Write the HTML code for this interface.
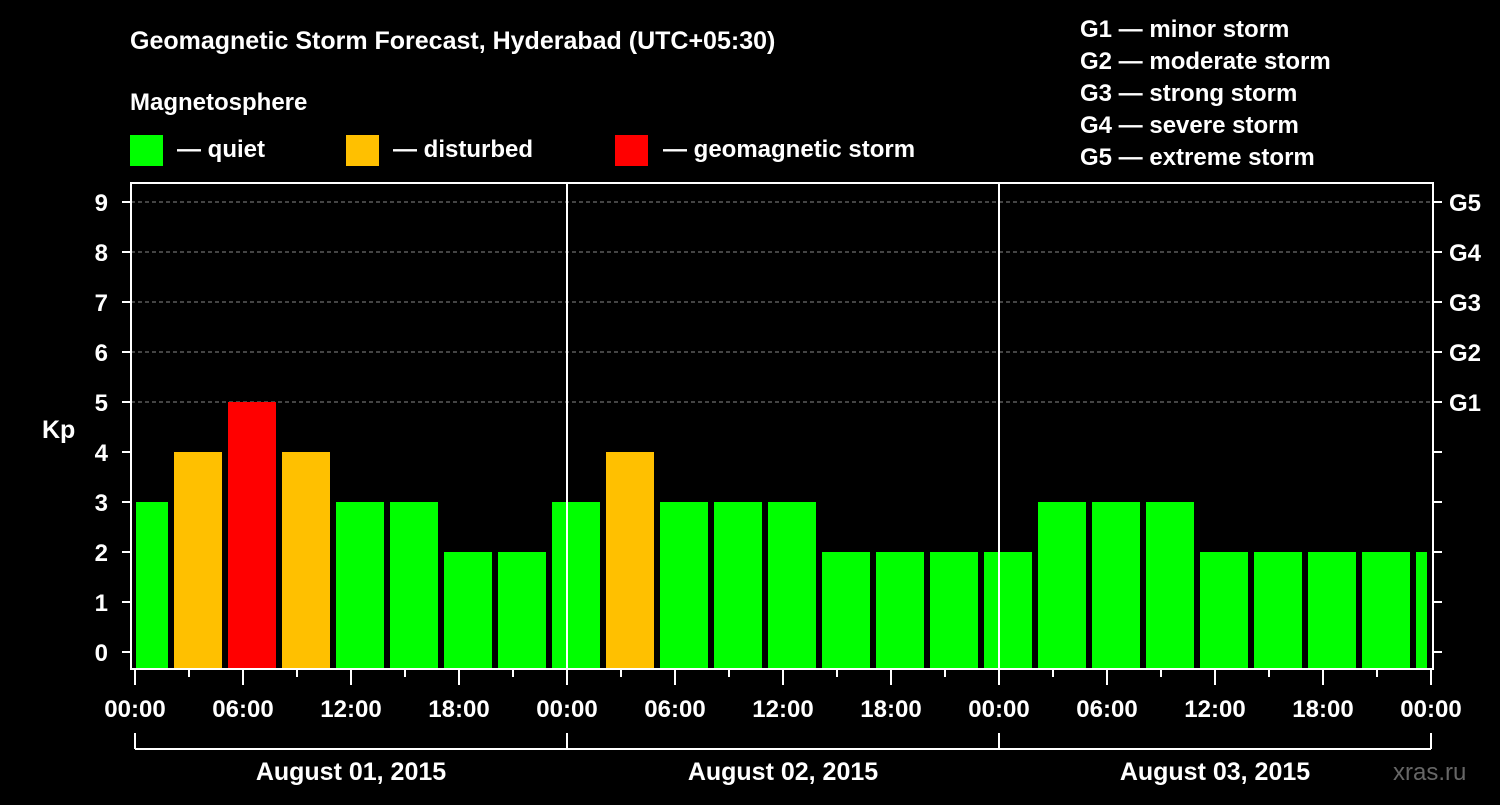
<!DOCTYPE html>
<html><head><meta charset="utf-8"><style>
body{margin:0;background:#000;width:1500px;height:800px;overflow:hidden}
svg text{font-family:"Liberation Sans",Arial,sans-serif;font-weight:bold;fill:#fff}
</style></head><body>
<svg id="chart" width="1500" height="800" viewBox="0 0 1500 800" xmlns="http://www.w3.org/2000/svg">
<text x="130" y="49" font-size="25">Geomagnetic Storm Forecast, Hyderabad (UTC+05:30)</text>
<text x="130" y="110" font-size="24">Magnetosphere</text>
<g>
<rect x="130" y="135" width="33" height="31" fill="#00ff00"/>
<text x="177" y="157" font-size="24">— quiet</text>
<rect x="346" y="135" width="33" height="31" fill="#ffc000"/>
<text x="393" y="157" font-size="24">— disturbed</text>
<rect x="615" y="135" width="33" height="31" fill="#ff0000"/>
<text x="663" y="157" font-size="24">— geomagnetic storm</text>
</g>
<g font-size="24">
<text x="1080" y="37">G1 — minor storm</text>
<text x="1080" y="69">G2 — moderate storm</text>
<text x="1080" y="101">G3 — strong storm</text>
<text x="1080" y="133">G4 — severe storm</text>
<text x="1080" y="165">G5 — extreme storm</text>
</g>
<text x="42" y="438" font-size="25">Kp</text>
<text x="1393" y="780" font-size="24" fill="#555" style="fill:#666;font-weight:normal">xras.ru</text>
<g id="grid"></g><g id="bars"></g><g id="axes"></g>
</svg>
<script>
const firstPartialValue = 3;
const kpValues = [4,5,4,3,3,2,2,3,4,3,3,3,2,2,2,2,3,3,3,2,2,2,2,2];
const dayLabels = ["August 01, 2015","August 02, 2015","August 03, 2015"];
const hourLabels = ["00:00","06:00","12:00","18:00"];
const gLabels = ["G1","G2","G3","G4","G5"];
const kpTicks = [0,1,2,3,4,5,6,7,8,9];

const NS="http://www.w3.org/2000/svg";
const X0=135, PXH=18, plotL=131, plotR=1433, plotT=183, plotB=669;
const xOf=h=>X0+h*PXH;
const yOf=v=>652-50*v;
function mk(tag,attrs,parent){const e=document.createElementNS(NS,tag);for(const k in attrs)e.setAttribute(k,attrs[k]);document.getElementById(parent).appendChild(e);return e;}
function col(v){return v>=5?"#ff0000":v>=4?"#ffc000":"#00ff00";}

// grid
for(let v=5;v<=9;v++){
  const l=mk("line",{x1:plotL,x2:plotR,y1:yOf(v),y2:yOf(v),stroke:"#888","stroke-dasharray":"4,3","stroke-width":1},"grid");
  
  
}
// bars
const end=xOf(72)-4;
{
  const b=mk("rect",{x:X0+1,y:yOf(firstPartialValue),width:xOf(2)-3-(X0+1),height:plotB-1-yOf(firstPartialValue),fill:col(firstPartialValue)},"bars");
  
  
}
kpValues.forEach((v,i)=>{
  const s=xOf(2+3*i)+3; let e=s+48; if(e>end)e=end;
  const b=mk("rect",{x:s,y:yOf(v),width:e-s,height:plotB-1-yOf(v),fill:col(v)},"bars");
  
  
});
// frame
const fr=mk("rect",{x:plotL,y:plotT,width:plotR-plotL,height:plotB-plotT,fill:"none",stroke:"#fff","stroke-width":2},"axes");


[1,2].forEach(d=>{
  const l=mk("line",{x1:xOf(24*d),x2:xOf(24*d),y1:plotT,y2:plotB,stroke:"#fff","stroke-width":2},"axes");
  
  
});
// y ticks
kpTicks.forEach(v=>{
  const y=yOf(v);
  const t=mk("line",{x1:122,x2:plotL,y1:y,y2:y,stroke:"#fff","stroke-width":2},"axes");
  
  
  const r=mk("line",{x1:plotR,x2:1442,y1:y,y2:y,stroke:"#fff","stroke-width":2},"axes");
  
  
  const tx=mk("text",{x:108,y:y+9,"font-size":24,"text-anchor":"end"},"axes");
  tx.textContent=v;
  
  
});
gLabels.forEach((g,i)=>{
  const tx=mk("text",{x:1449,y:yOf(5+i)+9,"font-size":24},"axes");
  tx.textContent=g;
  
  
});
// x ticks
for(let h=0;h<=72;h+=3){
  const major=h%6===0;
  const t=mk("line",{x1:xOf(h),x2:xOf(h),y1:plotB,y2:major?685:677,stroke:"#fff","stroke-width":2},"axes");
  
  
  if(major){
    const tx=mk("text",{x:xOf(h),y:717,"font-size":24,"text-anchor":"middle"},"axes");
    tx.textContent=hourLabels[(h%24)/6];
    
    
  }
}
// day brackets
const br=mk("line",{x1:xOf(0),x2:xOf(72),y1:749,y2:749,stroke:"#fff","stroke-width":2},"axes");


for(let d=0;d<=3;d++){
  const t=mk("line",{x1:xOf(24*d),x2:xOf(24*d),y1:733,y2:749,stroke:"#fff","stroke-width":2},"axes");
  
  
}
dayLabels.forEach((d,i)=>{
  const tx=mk("text",{x:xOf(24*i+12),y:780,"font-size":25,"text-anchor":"middle"},"axes");
  tx.textContent=d;
  
  
});
</script>
</body></html>
